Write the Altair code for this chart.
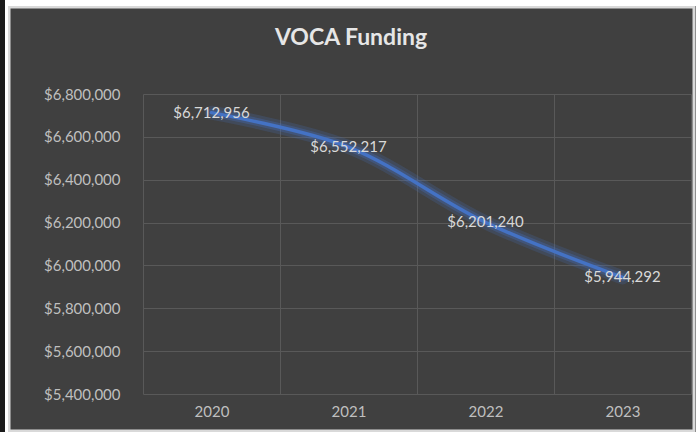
import altair as alt
import pandas as pd

chart_title = "VOCA Funding"
years = ["2020", "2021", "2022", "2023"]
funding = [6712956, 6552217, 6201240, 5944292]
y_ticks = [5400000, 5600000, 5800000, 6000000, 6200000, 6400000, 6600000, 6800000]

df = pd.DataFrame({"year": years, "funding": funding})
df["label"] = ["$" + format(v, ",") for v in funding]

FONT = "Lato"

x_enc = alt.X(
    "year:O",
    title=None,
    scale=alt.Scale(type="band", paddingInner=0, paddingOuter=0),
    axis=alt.Axis(
        labelAngle=0, tickBand="extent", grid=True, gridColor="#595959",
        gridWidth=1, domain=False, ticks=False, labelColor="#bfbfbf",
        labelFontSize=15, labelFont=FONT, labelPadding=10,
    ),
)
y_enc = alt.Y(
    "funding:Q",
    title=None,
    scale=alt.Scale(domain=[5400000, 6800000], nice=False, zero=False),
    axis=alt.Axis(
        values=y_ticks, format="$,.0f", grid=True, gridColor="#595959",
        gridWidth=1, domain=False, ticks=False, labelColor="#bfbfbf",
        labelFontSize=15, labelFont=FONT, labelPadding=23,
    ),
)

frame_df = pd.DataFrame({"t": [chart_title]})
border = alt.Chart(frame_df).mark_rect(
    fill=None, stroke="#d9d9d9", strokeWidth=3
).encode(
    x=alt.value(-134), x2=alt.value(551), y=alt.value(-87), y2=alt.value(337)
)
top_white = alt.Chart(frame_df).mark_rect(fill="#ffffff").encode(
    x=alt.value(-143), x2=alt.value(553), y=alt.value(-94), y2=alt.value(-88)
)
left_white = alt.Chart(frame_df).mark_rect(fill="#ffffff").encode(
    x=alt.value(-138), x2=alt.value(-135), y=alt.value(-94), y2=alt.value(338)
)
strip = alt.Chart(frame_df).mark_rect(fill="#1a1a1a").encode(
    x=alt.value(-143), x2=alt.value(-138), y=alt.value(-94), y2=alt.value(338)
)
title = alt.Chart(frame_df).mark_text(
    font=FONT, fontSize=23, fontWeight="bold", color="#e6e6e6",
    align="center", baseline="alphabetic"
).encode(text="t:N", x=alt.value(208), y=alt.value(-49))

base = alt.Chart(df).encode(x=x_enc, y=y_enc)
glow = base.mark_line(color="#4472C4", strokeWidth=14, opacity=0.2,
                      interpolate="catmull-rom", strokeCap="round")
glow2 = base.mark_line(color="#4472C4", strokeWidth=8, opacity=0.3,
                       interpolate="catmull-rom", strokeCap="round")
line = base.mark_line(color="#4472C4", strokeWidth=3.5,
                      interpolate="catmull-rom", strokeCap="round")
labels = base.mark_text(color="#d9d9d9", fontSize=15, font=FONT,
                        align="center", baseline="middle").encode(text="label:N")

chart = alt.layer(glow, glow2, line, labels, border, top_white, left_white,
                  strip, title).properties(
    width=548, height=300,
    background="#404040",
    padding={"left": 143, "top": 94, "right": 5, "bottom": 38},
    autosize=alt.AutoSizeParams(type="none"),
).configure_view(stroke=None)

chart.save("out.html", embed_options={"renderer": "svg", "actions": False})
